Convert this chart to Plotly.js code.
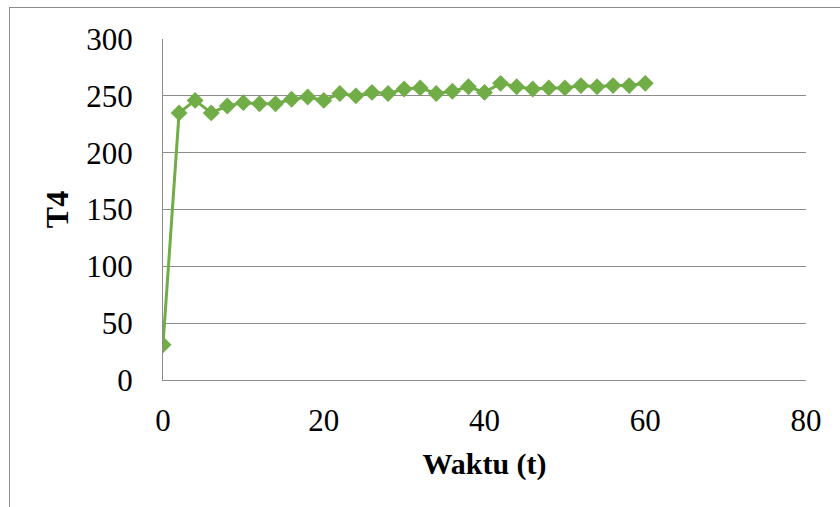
<!DOCTYPE html>
<html>
<head>
<meta charset="utf-8">
<script src="https://cdn.plot.ly/plotly-3.0.1.min.js"></script>
<style>
html,body{margin:0;padding:0;background:#fff;}
#wrap{position:relative;width:840px;height:507px;}
#chart{width:840px;height:507px;}
#frame{position:absolute;left:9px;top:7px;width:840px;height:510px;border-left:1px solid #8c8c8c;border-top:1px solid #8c8c8c;pointer-events:none;}
</style>
</head>
<body>
<div id="wrap"><div id="chart"></div><div id="frame"></div></div>
<script>
const waktu = [0,2,4,6,8,10,12,14,16,18,20,22,24,26,28,30,32,34,36,38,40,42,44,46,48,50,52,54,56,58,60];
const t4 = [31,235,246,235,241,244,243,243,247,249,246,252,250,253,252,256,257,252,254,258,253,261,258,256,257,257,259,258,259,259,261];
const xTicks = [0,20,40,60,80];
const yTicks = [0,50,100,150,200,250,300];

const font = 'Liberation Serif, Times New Roman, serif';
Plotly.newPlot('chart', [{
  x: waktu, y: t4, type: 'scatter', mode: 'lines+markers',
  line: {color: '#70AD47', width: 3},
  marker: {symbol: 'diamond', size: 13, color: '#70AD47'},
  showlegend: false
}], {
  width: 840, height: 507,
  margin: {l: 163, r: 34, t: 39, b: 127},
  paper_bgcolor: '#fff', plot_bgcolor: '#fff',
  font: {family: font, color: '#000', size: 31},
  xaxis: {
    range: [0, 80], tickvals: xTicks, ticktext: xTicks.map(String),
    showgrid: false, zeroline: false, showline: true, linecolor: '#8c8c8c', linewidth: 1,
    ticks: '', ticklabelstandoff: 13, tickfont: {family: font, size: 31},
    title: {text: '<b>Waktu (t)</b>', font: {family: font, size: 30}, standoff: 15}
  },
  yaxis: {
    range: [0, 300], tickvals: yTicks, ticktext: yTicks.map(String),
    showgrid: true, gridcolor: '#8c8c8c', gridwidth: 1, zeroline: false,
    showline: true, linecolor: '#8c8c8c', linewidth: 1,
    ticks: '', ticklabelstandoff: 23, tickfont: {family: font, size: 31},
    title: {text: '<b>T4</b>', font: {family: font, size: 32}, standoff: 8}
  }
}, {displayModeBar: false, staticPlot: true});
</script>
</body>
</html>
